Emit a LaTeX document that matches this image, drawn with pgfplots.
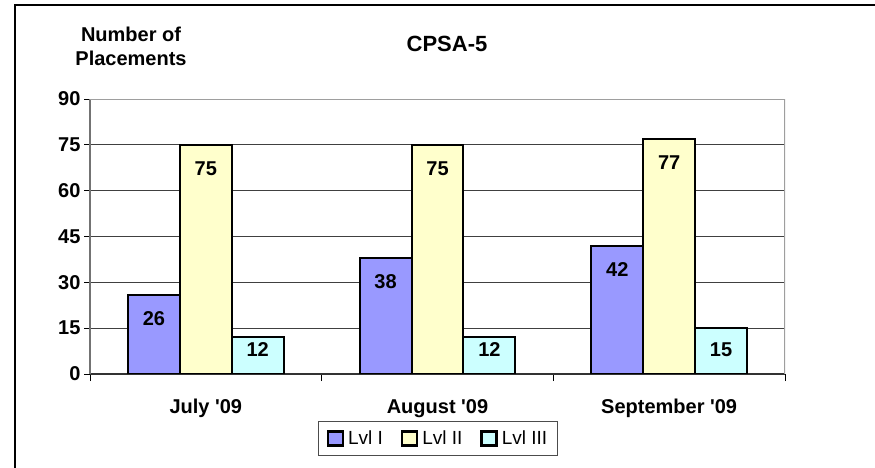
\documentclass[border=0pt]{standalone}
\usepackage{pgfplots}
\pgfplotsset{compat=1.18}
\usepackage{fontspec}
\setmainfont{Liberation Sans}
\definecolor{lvlA}{HTML}{9999FF}
\definecolor{lvlB}{HTML}{FFFFCC}
\definecolor{lvlC}{HTML}{CCFFFF}
\newcommand\lab{\fontsize{20bp}{24bp}\selectfont\bfseries}
\newcommand\leg{\fontsize{19bp}{22bp}\selectfont}
\begin{document}
\begin{tikzpicture}
\useasboundingbox (0,0) rectangle (875bp,468bp);
\draw[black, line width=1.3bp] (15bp,-2bp) -- (15bp,463bp) -- (880bp,463bp);
\node[anchor=base, font=\lab] at (131bp,426bp) {Number of};
\node[anchor=base, font=\lab] at (131bp,402bp) {Placements};
\node[anchor=base, font=\fontsize{22bp}{26bp}\selectfont\bfseries] at (447bp,416bp) {CPSA-5};
\begin{axis}[
  at={(90bp,94bp)}, anchor=south west,
  width=695bp, height=275bp, scale only axis,
  /pgf/number format/assume math mode=true,
  ybar, bar width=0.224,
  xmin=-0.5, xmax=2.5, ymin=0, ymax=90,
  ytick={0,15,30,45,60,75,90},
  xtick={0,1,2},
  xticklabels={July \textquotesingle 09, August \textquotesingle 09, September \textquotesingle 09},
  minor xtick={-0.5,0.5,1.5,2.5},
  axis x line*=bottom, axis y line*=left,
  x axis line style={black!80, line width=1.6bp},
  y axis line style={black!55, line width=2bp},
  tick align=outside,
  major tick length=6bp, minor tick length=7bp,
  major x tick style={draw=none},
  minor x tick style={black, line width=1bp},
  major y tick style={black, line width=1bp},
  ymajorgrids, major grid style={black!75, line width=0.8bp},
  ticklabel style={font=\lab},
  xticklabel style={anchor=base, yshift=-33bp},
  visualization depends on=rawy \as \rawy,
  nodes near coords,
  every node near coord/.append style={font=\lab, anchor=base,
    yshift={max(-31,18-3.0556*\rawy)*1bp}},
  legend columns=3,
  legend style={at={(axis description cs:0.5007,-0.2345)}, anchor=center,
    draw=black!70, line width=1bp, font=\leg, inner xsep=8bp, inner ysep=7.5bp,
    /tikz/every odd column/.append style={column sep=2bp},
    /tikz/every even column/.append style={column sep=16bp}},
  legend image code/.code={\draw[#1, line width=2.4bp] (0bp,-7bp) rectangle (15bp,7bp);},
]
\addplot[fill=lvlA, draw=black, line width=2bp, bar shift=-0.224] coordinates {(0,26) (1,38) (2,42)};
\addplot[fill=lvlB, draw=black, line width=2bp, bar shift=0] coordinates {(0,75) (1,75) (2,77)};
\addplot[fill=lvlC, draw=black, line width=2bp, bar shift=0.224] coordinates {(0,12) (1,12) (2,15)};
\legend{Lvl I, Lvl II, Lvl III}
\draw[black!38, line width=2.5bp] (rel axis cs:0,1) -- (rel axis cs:1,1) -- (rel axis cs:1,0);
\end{axis}
\end{tikzpicture}
\end{document}
